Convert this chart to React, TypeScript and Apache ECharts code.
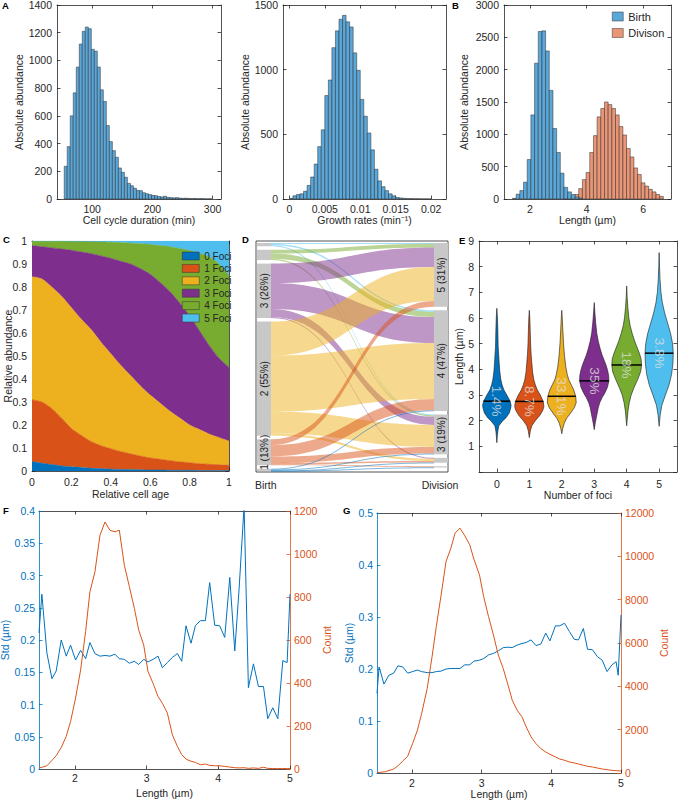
import React, { useEffect, useRef } from 'react';
import * as echarts from 'echarts';

const FONT = "'Liberation Sans', Arial, Helvetica, sans-serif";
const INK = '#262626';
const BLUE = '#0072BD';
const ORANGE = '#D95319';
const HIST_BLUE = '#5AA7DA';
const HIST_ORANGE = '#EA9676';

// ---- Panel A (left): cell cycle duration histogram
const cycleBinStart = 53.5;
const cycleBinWidth = 5;
const cycleCounts = [236, 378, 600, 766, 952, 1118, 1210, 1241, 1229, 1080, 1067, 952, 788, 704, 530, 414, 349, 301, 224, 193, 157, 113, 96, 78, 62, 60, 45, 38, 32, 26, 24, 18, 15, 20, 12, 10, 8, 10, 6, 5, 6, 4, 3, 4, 2, 3, 2, 1, 2];
const cycleTicks = [100, 200, 300];

// ---- Panel A (middle): growth rate histogram
const growthBinStart = 0;
const growthBinWidth = 0.0005;
const growthCounts = [5, 25, 35, 40, 60, 105, 170, 270, 405, 535, 800, 920, 1170, 1300, 1390, 1420, 1370, 1330, 1130, 995, 770, 640, 510, 380, 230, 140, 95, 65, 40, 25, 12, 8, 5, 3, 3, 2, 2, 1, 1, 1];
const growthTicks = [0, 0.005, 0.01, 0.015, 0.02];

// ---- Panel B: length at birth / division
const lengthBinWidth = 0.13;
const birthBinStart = 1.38;
const birthCounts = [10, 75, 130, 260, 610, 1300, 2100, 2590, 2600, 2290, 1680, 1090, 720, 400, 180, 110, 70, 30, 15];
const divisionBinStart = 3.2;
const divisionCounts = [5, 20, 40, 70, 160, 300, 410, 720, 980, 1270, 1400, 1500, 1460, 1400, 1300, 1120, 990, 780, 650, 480, 380, 250, 200, 150, 110, 70, 40];
const lengthTicks = [2, 4, 6];

// ---- Panel C: relative abundance of foci vs relative cell age
const cellAge = [0, 0.05, 0.1, 0.15, 0.2, 0.25, 0.3, 0.35, 0.4, 0.45, 0.5, 0.55, 0.6, 0.65, 0.7, 0.75, 0.8, 0.85, 0.9, 0.95, 1];
const fociNames = ['0 Foci', '1 Foci', '2 Foci', '3 Foci', '4 Foci', '5 Foci'];
const fociColors = ['#0072BD', '#D95319', '#EDB120', '#7E2F8E', '#77AC30', '#4DBEEE'];
const foci0 = [0.040, 0.034, 0.028, 0.022, 0.018, 0.015, 0.012, 0.010, 0.008, 0.007, 0.006, 0.005, 0.004, 0.004, 0.003, 0.003, 0.003, 0.002, 0.002, 0.002, 0.002];
const foci1 = [0.270, 0.266, 0.244, 0.208, 0.167, 0.140, 0.116, 0.100, 0.089, 0.078, 0.069, 0.060, 0.053, 0.047, 0.042, 0.037, 0.033, 0.030, 0.027, 0.025, 0.023];
const foci2 = [0.535, 0.535, 0.528, 0.530, 0.525, 0.505, 0.487, 0.450, 0.413, 0.375, 0.340, 0.305, 0.273, 0.244, 0.215, 0.190, 0.164, 0.148, 0.131, 0.118, 0.105];
const foci3 = [0.135, 0.140, 0.170, 0.205, 0.250, 0.292, 0.330, 0.375, 0.415, 0.452, 0.485, 0.510, 0.525, 0.525, 0.520, 0.500, 0.475, 0.430, 0.385, 0.345, 0.320];
const foci4 = [0.020, 0.025, 0.030, 0.035, 0.039, 0.046, 0.052, 0.061, 0.070, 0.081, 0.090, 0.108, 0.130, 0.160, 0.195, 0.237, 0.283, 0.336, 0.385, 0.410, 0.400];
const foci5 = [0, 0, 0, 0, 0.001, 0.002, 0.003, 0.004, 0.005, 0.007, 0.010, 0.012, 0.015, 0.020, 0.025, 0.033, 0.042, 0.054, 0.070, 0.100, 0.150];
const fociShares = [foci0, foci1, foci2, foci3, foci4, foci5];

// ---- Panel D: foci transitions birth -> division
const birthFoci = [5, 4, 3, 2, 1, 0];
const birthLabels = ['', '', '3 (26%)', '2 (55%)', '1 (13%)', ''];
const divisionFoci = [5, 4, 3, 2, 1];
const divisionLabels = ['5 (31%)', '4 (47%)', '3 (19%)', '', ''];
const flowFrom = [5, 5, 5, 4, 4, 4, 3, 3, 3, 3, 2, 2, 2, 2, 1, 1, 1, 1, 1, 0, 0, 0, 0];
const flowTo = [5, 4, 3, 5, 4, 3, 5, 4, 3, 2, 5, 4, 3, 2, 5, 4, 3, 2, 1, 4, 3, 2, 1];
const flowSize = [2, 5, 3, 12, 16, 4, 60, 80, 25, 3, 105, 173, 68, 7, 18, 35, 20, 4, 3, 2, 3, 1, 1];

// ---- Panel E: length distribution per number of foci (violins)
const violinCategories = [0, 1, 2, 3, 4, 5];
const violinLengths = [
  [1.14, 1.4, 1.6, 1.8, 2.0, 2.1, 2.3, 2.5, 2.6, 2.76, 3.0, 3.2, 3.4, 3.6, 3.9, 4.25, 4.6, 4.9, 5.5, 6.0, 6.38],
  [1.34, 1.6, 1.8, 2.0, 2.2, 2.4, 2.55, 2.75, 3.0, 3.2, 3.4, 3.6, 3.9, 4.25, 4.6, 5.0, 5.5, 6.0, 6.3],
  [1.49, 1.7, 1.9, 2.1, 2.3, 2.5, 2.7, 2.95, 3.2, 3.4, 3.6, 3.8, 4.1, 4.5, 5.0, 5.5, 6.0, 6.3],
  [1.65, 1.9, 2.1, 2.3, 2.5, 2.7, 2.9, 3.1, 3.3, 3.55, 3.75, 3.95, 4.15, 4.35, 4.55, 4.8, 5.1, 5.4, 5.8, 6.2, 6.6],
  [1.8, 2.1, 2.4, 2.7, 3.0, 3.3, 3.6, 3.9, 4.15, 4.4, 4.6, 4.8, 5.1, 5.4, 5.7, 6.0, 6.4, 6.8, 7.25],
  [1.78, 2.2, 2.6, 3.0, 3.4, 3.8, 4.2, 4.63, 5.0, 5.4, 5.8, 6.2, 6.6, 7.0, 7.5, 8.0, 8.55],
];
const violinHalfWidths = [
  [0, 0.015, 0.031, 0.061, 0.184, 0.276, 0.383, 0.429, 0.439, 0.408, 0.307, 0.215, 0.160, 0.123, 0.092, 0.071, 0.055, 0.040, 0.031, 0.018, 0],
  [0, 0.031, 0.077, 0.184, 0.322, 0.414, 0.451, 0.429, 0.337, 0.245, 0.184, 0.138, 0.101, 0.077, 0.055, 0.040, 0.028, 0.015, 0],
  [0, 0.031, 0.077, 0.153, 0.276, 0.383, 0.445, 0.429, 0.368, 0.291, 0.215, 0.169, 0.123, 0.086, 0.055, 0.034, 0.015, 0],
  [0, 0.031, 0.061, 0.092, 0.123, 0.169, 0.245, 0.337, 0.408, 0.451, 0.445, 0.414, 0.368, 0.307, 0.245, 0.184, 0.123, 0.080, 0.046, 0.021, 0],
  [0, 0.021, 0.043, 0.080, 0.138, 0.230, 0.337, 0.429, 0.460, 0.445, 0.399, 0.337, 0.245, 0.169, 0.107, 0.067, 0.037, 0.015, 0],
  [0, 0.031, 0.083, 0.193, 0.307, 0.383, 0.423, 0.436, 0.414, 0.353, 0.261, 0.169, 0.098, 0.055, 0.028, 0.012, 0],
];
const violinMedians = [2.76, 2.75, 2.95, 3.55, 4.17, 4.63];
const violinShares = ['1.4%', '8.7%', '33.1%', '35%', '18%', '3.8%'];

// ---- Panel F
const fLen = [1.50, 1.54, 1.61, 1.68, 1.74, 1.81, 1.88, 1.94, 2.01, 2.08, 2.15, 2.21, 2.28, 2.35, 2.42, 2.49, 2.56, 2.62, 2.69, 2.76, 2.83, 2.89, 2.96, 3.02, 3.09, 3.16, 3.22, 3.29, 3.36, 3.43, 3.49, 3.55, 3.62, 3.68, 3.75, 3.82, 3.88, 3.95, 4.02, 4.09, 4.16, 4.23, 4.29, 4.36, 4.42, 4.49, 4.56, 4.63, 4.69, 4.76, 4.83, 4.90, 4.96, 5.00];
const fStd = [0.211, 0.271, 0.180, 0.140, 0.152, 0.200, 0.175, 0.192, 0.169, 0.184, 0.171, 0.196, 0.179, 0.175, 0.176, 0.175, 0.178, 0.171, 0.170, 0.164, 0.167, 0.162, 0.170, 0.166, 0.170, 0.175, 0.157, 0.165, 0.173, 0.179, 0.167, 0.222, 0.195, 0.222, 0.230, 0.230, 0.289, 0.223, 0.222, 0.204, 0.297, 0.183, 0.279, 0.408, 0.126, 0.163, 0.128, 0.128, 0.078, 0.095, 0.078, 0.168, 0.165, 0.271];
const fCount = [5, 8, 15, 40, 62, 100, 152, 221, 330, 460, 640, 824, 917, 1087, 1149, 1110, 1103, 1111, 948, 848, 747, 647, 577, 453, 399, 337, 306, 260, 159, 105, 67, 46, 36, 31, 20, 23, 17, 15, 15, 12, 9, 6, 5, 6, 3, 5, 3, 8, 3, 2, 2, 2, 2, 2];

// ---- Panel G
const gLen = [1.50, 1.53, 1.60, 1.67, 1.74, 1.80, 1.87, 1.94, 2.01, 2.08, 2.14, 2.22, 2.29, 2.35, 2.42, 2.49, 2.56, 2.62, 2.69, 2.76, 2.83, 2.89, 2.97, 3.03, 3.10, 3.17, 3.24, 3.31, 3.38, 3.44, 3.51, 3.58, 3.64, 3.71, 3.78, 3.85, 3.92, 3.98, 4.06, 4.12, 4.19, 4.26, 4.33, 4.39, 4.46, 4.52, 4.59, 4.66, 4.73, 4.80, 4.87, 4.93, 4.96, 5.00];
const gStd = [0.153, 0.204, 0.171, 0.188, 0.192, 0.206, 0.204, 0.192, 0.195, 0.198, 0.195, 0.193, 0.193, 0.195, 0.196, 0.200, 0.201, 0.201, 0.201, 0.208, 0.208, 0.215, 0.217, 0.220, 0.227, 0.230, 0.235, 0.241, 0.242, 0.241, 0.246, 0.249, 0.251, 0.256, 0.245, 0.248, 0.269, 0.254, 0.283, 0.283, 0.288, 0.272, 0.257, 0.256, 0.278, 0.238, 0.237, 0.224, 0.217, 0.195, 0.208, 0.214, 0.188, 0.304];
const gCountLen = [1.50, 1.62, 1.74, 1.81, 1.87, 1.94, 2.01, 2.08, 2.14, 2.22, 2.29, 2.35, 2.42, 2.49, 2.56, 2.62, 2.69, 2.76, 2.83, 2.89, 2.97, 3.03, 3.10, 3.17, 3.24, 3.31, 3.38, 3.44, 3.51, 3.58, 3.64, 3.71, 3.78, 3.85, 3.92, 3.98, 4.06, 4.12, 4.19, 4.26, 4.33, 4.39, 4.46, 4.52, 4.59, 4.66, 4.73, 4.80, 4.87, 4.93, 5.00];
const gCount = [15, 60, 185, 355, 555, 771, 1357, 1974, 2745, 3902, 5366, 6754, 8219, 9761, 10378, 11072, 11303, 10948, 10532, 9869, 9144, 8142, 7217, 6369, 5443, 4826, 4055, 3362, 2899, 2591, 2128, 1665, 1357, 1126, 971, 863, 740, 648, 586, 509, 463, 416, 355, 308, 278, 231, 185, 154, 123, 108, 93];
const stdLengthTicks = [2, 3, 4, 5];

type AxisOpts = {
  grid: number; pos: string; min: number; max: number; interval?: number; ticks?: number[];
  labels?: boolean; name?: string; nameGap?: number; color?: string; margin?: number; formatter?: any;
  fixedName?: boolean;
};

const plain = (v: any) => String(v);

function axisStyle(color: string, showLabels: boolean, margin: number) {
  return {
    axisLine: { show: true, onZero: false, lineStyle: { color, width: 0.8 } },
    axisTick: { show: true, inside: true, length: 3.5, lineStyle: { color, width: 0.8 } } as any,
    axisLabel: { show: showLabels, color, fontSize: 10.5, fontFamily: FONT, margin, formatter: plain } as any,
    splitLine: { show: false },
  };
}

function axis(o: AxisOpts): any {
  const color = o.color ?? INK;
  const a: any = {
    type: 'value', gridIndex: o.grid, position: o.pos, min: o.min, max: o.max,
    ...axisStyle(color, o.labels !== false, o.margin ?? 5),
  };
  if (o.interval !== undefined) a.interval = o.interval;
  if (o.ticks) { a.axisTick.customValues = o.ticks; a.axisLabel.customValues = o.ticks; }
  if (o.formatter) a.axisLabel.formatter = o.formatter;
  if (o.name) {
    a.name = o.name; a.nameLocation = 'middle'; a.nameGap = o.nameGap;
    a.nameTextStyle = { color, fontSize: 10.5, fontFamily: FONT };
    if (o.fixedName) a.nameMoveOverlap = false;
  }
  return a;
}

function ageAxis(pos: string, labels: boolean): any {
  const a: any = {
    type: 'category', gridIndex: 3, position: pos, data: cellAge.map(plain), boundaryGap: false,
    ...axisStyle(INK, labels, 5),
  };
  a.axisTick.interval = 3;
  a.axisLabel.interval = 3;
  if (labels) {
    a.name = 'Relative cell age'; a.nameLocation = 'middle'; a.nameGap = 17;
    a.nameTextStyle = { color: INK, fontSize: 10.5, fontFamily: FONT };
  }
  return a;
}

function histSeries(name: string, xi: number, start: number, width: number, counts: number[], color: string): any {
  return {
    type: 'custom', name, xAxisIndex: xi, yAxisIndex: xi,
    itemStyle: { color },
    encode: { x: [0, 1], y: 2 },
    data: counts.map((c, i) => [start + i * width, start + (i + 1) * width, c]),
    renderItem: (_p: any, api: any) => {
      const a = api.coord([api.value(0), api.value(2)]);
      const b = api.coord([api.value(1), 0]);
      return {
        type: 'rect',
        shape: { x: a[0], y: a[1], width: b[0] - a[0], height: b[1] - a[1] },
        style: { fill: color, stroke: '#2b2b2b', lineWidth: 0.5 },
      };
    },
  };
}

function halfWidthAt(L: number[], W: number[], v: number): number {
  for (let k = 0; k < L.length - 1; k++) {
    if (v >= L[k] && v <= L[k + 1]) {
      const t = (v - L[k]) / (L[k + 1] - L[k]);
      return W[k] + t * (W[k + 1] - W[k]);
    }
  }
  return 0;
}

function panelLetter(t: string, x: number, y: number): any {
  return {
    type: 'text', x, y, z: 100,
    style: { text: t, fill: '#000', fontSize: 9.5, fontWeight: 'bold', fontFamily: FONT, align: 'left', verticalAlign: 'middle', textAlign: 'left', textVerticalAlign: 'middle' },
  };
}

function buildOption(): any {
  const grids = [
    { left: 57, top: 5, width: 164, height: 194 },
    { left: 283, top: 5, width: 163, height: 194 },
    { left: 504, top: 5, width: 167, height: 194 },
    { left: 32, top: 241, width: 197, height: 230 },
    { left: 479, top: 241, width: 198, height: 231 },
    { left: 39, top: 511, width: 251, height: 258 },
    { left: 377, top: 513, width: 244, height: 260 },
  ].map((g) => ({ ...g, containLabel: false, outerBoundsMode: 'none' }));

  const hideZero = (v: number) => (v === 0 ? '' : String(v));

  const xAxis = [
    axis({ grid: 0, pos: 'bottom', min: 41.5, max: 314, ticks: cycleTicks, name: 'Cell cycle duration (min)', nameGap: 15, margin: 4 }),
    axis({ grid: 0, pos: 'top', min: 41.5, max: 314, ticks: cycleTicks, labels: false }),
    axis({ grid: 1, pos: 'bottom', min: -0.0009, max: 0.0221, ticks: growthTicks, name: 'Growth rates (min⁻¹)', nameGap: 15, margin: 4 }),
    axis({ grid: 1, pos: 'top', min: -0.0009, max: 0.0221, ticks: growthTicks, labels: false }),
    axis({ grid: 2, pos: 'bottom', min: 1.08, max: 6.98, ticks: lengthTicks, name: 'Length (µm)', nameGap: 15, margin: 4 }),
    axis({ grid: 2, pos: 'top', min: 1.08, max: 6.98, ticks: lengthTicks, labels: false }),
    ageAxis('bottom', true),
    ageAxis('top', false),
    axis({ grid: 4, pos: 'bottom', min: -0.55, max: 5.55, ticks: violinCategories, name: 'Number of foci', nameGap: 16, margin: 6 }),
    axis({ grid: 4, pos: 'top', min: -0.55, max: 5.55, ticks: violinCategories, labels: false }),
    axis({ grid: 5, pos: 'bottom', min: 1.5, max: 5, ticks: stdLengthTicks, name: 'Length (µm)', nameGap: 18, margin: 3 }),
    axis({ grid: 5, pos: 'top', min: 1.5, max: 5, ticks: stdLengthTicks, labels: false }),
    axis({ grid: 6, pos: 'bottom', min: 1.5, max: 5, ticks: stdLengthTicks, name: 'Length (µm)', nameGap: 14, margin: 4 }),
    axis({ grid: 6, pos: 'top', min: 1.5, max: 5, ticks: stdLengthTicks, labels: false }),
  ];
  const yAxis = [
    axis({ grid: 0, pos: 'left', min: 0, max: 1400, interval: 200, name: 'Absolute abundance', nameGap: 28 }),
    axis({ grid: 0, pos: 'right', min: 0, max: 1400, interval: 200, labels: false }),
    axis({ grid: 1, pos: 'left', min: 0, max: 1500, interval: 500, name: 'Absolute abundance', nameGap: 24 }),
    axis({ grid: 1, pos: 'right', min: 0, max: 1500, interval: 500, labels: false }),
    axis({ grid: 2, pos: 'left', min: 0, max: 3000, interval: 500, name: 'Absolute abundance', nameGap: 35 }),
    axis({ grid: 2, pos: 'right', min: 0, max: 3000, interval: 500, labels: false }),
    axis({ grid: 3, pos: 'left', min: 0, max: 1, interval: 0.1, name: 'Relative abundance', nameGap: 19, fixedName: true }),
    axis({ grid: 3, pos: 'right', min: 0, max: 1, interval: 0.1, labels: false }),
    axis({ grid: 4, pos: 'left', min: 0, max: 9, interval: 1, name: 'Length (µm)', nameGap: 11, formatter: hideZero }),
    axis({ grid: 4, pos: 'right', min: 0, max: 9, interval: 1, labels: false }),
    axis({ grid: 5, pos: 'left', min: 0, max: 0.4, interval: 0.05, name: 'Std (µm)', nameGap: 29, color: BLUE, margin: 4 }),
    axis({ grid: 5, pos: 'right', min: 0, max: 1200, interval: 200, name: 'Count', nameGap: 22, color: ORANGE, margin: 4 }),
    axis({ grid: 6, pos: 'left', min: 0, max: 0.5, interval: 0.1, name: 'Std (µm)', nameGap: 19, color: BLUE, margin: 4 }),
    axis({ grid: 6, pos: 'right', min: 0, max: 12000, interval: 2000, name: 'Count', nameGap: 31, color: ORANGE, margin: 4 }),
  ];

  const series: any[] = [];
  series.push(histSeries('Cycle', 0, cycleBinStart, cycleBinWidth, cycleCounts, HIST_BLUE));
  series.push(histSeries('Growth', 2, growthBinStart, growthBinWidth, growthCounts, HIST_BLUE));
  series.push(histSeries('Divison', 4, divisionBinStart, lengthBinWidth, divisionCounts, HIST_ORANGE));
  series.push(histSeries('Birth', 4, birthBinStart, lengthBinWidth, birthCounts, HIST_BLUE));

  fociShares.forEach((vals, k) => {
    series.push({
      type: 'line', name: fociNames[k], xAxisIndex: 6, yAxisIndex: 6, stack: 'foci',
      data: vals,
      symbol: 'none', showSymbol: false, smooth: 0.25,
      color: fociColors[k],
      itemStyle: { color: fociColors[k] },
      lineStyle: { width: 0.6, color: fociColors[k] },
      areaStyle: { color: fociColors[k], opacity: 1 },
    });
  });

  const nodes = [
    ...birthFoci.map((f, i) => ({ name: 'B' + f, label: { show: birthLabels[i] !== '', formatter: birthLabels[i] } })),
    ...divisionFoci.map((f, i) => ({ name: 'D' + f, label: { show: divisionLabels[i] !== '', formatter: divisionLabels[i] } })),
  ];
  const links = flowFrom.map((f, i) => ({
    source: 'B' + f, target: 'D' + flowTo[i], value: flowSize[i],
    lineStyle: { color: fociColors[f], opacity: 0.5, curveness: 0.5 },
  }));
  series.push({
    type: 'sankey', left: 257, top: 243, width: 191, height: 228,
    nodeWidth: 14, nodeGap: 3.5, layoutIterations: 0, draggable: false, nodeAlign: 'justify',
    emphasis: { disabled: true },
    itemStyle: { color: '#C8C8C8', borderWidth: 0 },
    label: { position: 'inside', rotate: 90, fontSize: 10, color: INK, fontFamily: FONT },
    data: nodes, links,
  });

  series.push({
    type: 'custom', xAxisIndex: 8, yAxisIndex: 8,
    data: violinCategories.map((c, i) => [c, violinMedians[i]]),
    encode: { x: 0, y: 1 },
    renderItem: (params: any, api: any) => {
      const i = params.dataIndex;
      const c0 = violinCategories[i];
      const L = violinLengths[i];
      const W = violinHalfWidths[i];
      const pts: number[][] = [];
      for (let k = 0; k < L.length; k++) pts.push(api.coord([c0 + W[k], L[k]]));
      for (let k = L.length - 1; k >= 0; k--) pts.push(api.coord([c0 - W[k], L[k]]));
      const m = violinMedians[i];
      const hw = halfWidthAt(L, W, m);
      const a = api.coord([c0 - hw, m]);
      const b = api.coord([c0 + hw, m]);
      const c = api.coord([c0, m]);
      return {
        type: 'group',
        children: [
          { type: 'polygon', shape: { points: pts }, style: { fill: fociColors[i], stroke: '#1a1a1a', lineWidth: 0.6 } },
          { type: 'line', shape: { x1: a[0], y1: a[1], x2: b[0], y2: b[1] }, style: { stroke: '#000', lineWidth: 1.5 } },
          {
            type: 'text', x: c[0], y: c[1], rotation: -Math.PI / 2,
            style: { text: violinShares[i], fill: 'rgba(224,224,224,0.78)', fontSize: 13.5, fontFamily: FONT, align: 'center', verticalAlign: 'middle' },
          },
        ],
      };
    },
  });

  series.push({
    type: 'line', name: 'Std F', xAxisIndex: 10, yAxisIndex: 10, data: fLen.map((x, i) => [x, fStd[i]]),
    symbol: 'none', showSymbol: false, lineStyle: { color: BLUE, width: 1 }, itemStyle: { color: BLUE },
  });
  series.push({
    type: 'line', name: 'Count F', xAxisIndex: 10, yAxisIndex: 11, data: fLen.map((x, i) => [x, fCount[i]]),
    symbol: 'none', showSymbol: false, lineStyle: { color: ORANGE, width: 1 }, itemStyle: { color: ORANGE },
  });
  series.push({
    type: 'line', name: 'Std G', xAxisIndex: 12, yAxisIndex: 12, data: gLen.map((x, i) => [x, gStd[i]]),
    symbol: 'none', showSymbol: false, lineStyle: { color: BLUE, width: 1 }, itemStyle: { color: BLUE },
  });
  series.push({
    type: 'line', name: 'Count G', xAxisIndex: 12, yAxisIndex: 13, data: gCountLen.map((x, i) => [x, gCount[i]]),
    symbol: 'none', showSymbol: false, lineStyle: { color: ORANGE, width: 1 }, itemStyle: { color: ORANGE },
  });

  const legendText = { color: INK, fontFamily: FONT };
  const legend = [
    {
      data: ['Birth', 'Divison'], left: 612, top: 11, orient: 'vertical', icon: 'rect',
      itemWidth: 11, itemHeight: 9, itemGap: 5.5, padding: 0, selectedMode: false,
      itemStyle: { borderColor: '#333', borderWidth: 0.5 },
      textStyle: { ...legendText, fontSize: 11 },
    },
    {
      data: fociNames, left: 182, top: 251, orient: 'vertical', icon: 'rect',
      itemWidth: 17, itemHeight: 8, itemGap: 2.4, padding: 0, selectedMode: false,
      itemStyle: { borderColor: '#333', borderWidth: 0.5 },
      textStyle: { ...legendText, fontSize: 10 },
    },
  ];

  const graphic = [
    { type: 'rect', z: 1, shape: { x: 256, y: 241, width: 192, height: 231 }, style: { fill: 'none', stroke: INK, lineWidth: 0.8 } },
    panelLetter('A', 2, 5),
    panelLetter('B', 452, 5),
    panelLetter('C', 3, 239),
    panelLetter('D', 242, 239),
    panelLetter('E', 459, 240),
    panelLetter('F', 3, 510),
    panelLetter('G', 343, 510),
    {
      type: 'text', x: 255, y: 485, z: 100,
      style: { text: 'Birth', fill: INK, fontSize: 10.5, fontFamily: FONT, align: 'left', verticalAlign: 'middle', textAlign: 'left', textVerticalAlign: 'middle' },
    },
    {
      type: 'text', x: 440, y: 485, z: 100,
      style: { text: 'Division', fill: INK, fontSize: 10.5, fontFamily: FONT, align: 'center', verticalAlign: 'middle', textAlign: 'center', textVerticalAlign: 'middle' },
    },
  ];

  return {
    animation: false,
    backgroundColor: '#fff',
    textStyle: { fontFamily: FONT },
    grid: grids, xAxis, yAxis, series, legend, graphic,
  };
}

export default function App() {
  const ref = useRef<HTMLDivElement>(null);
  useEffect(() => {
    document.body.style.margin = '0';
    const chart = echarts.init(ref.current as HTMLDivElement, null, { renderer: 'svg' });
    chart.setOption(buildOption());
    return () => chart.dispose();
  }, []);
  return <div ref={ref} style={{ width: 678, height: 800 }} />;
}
